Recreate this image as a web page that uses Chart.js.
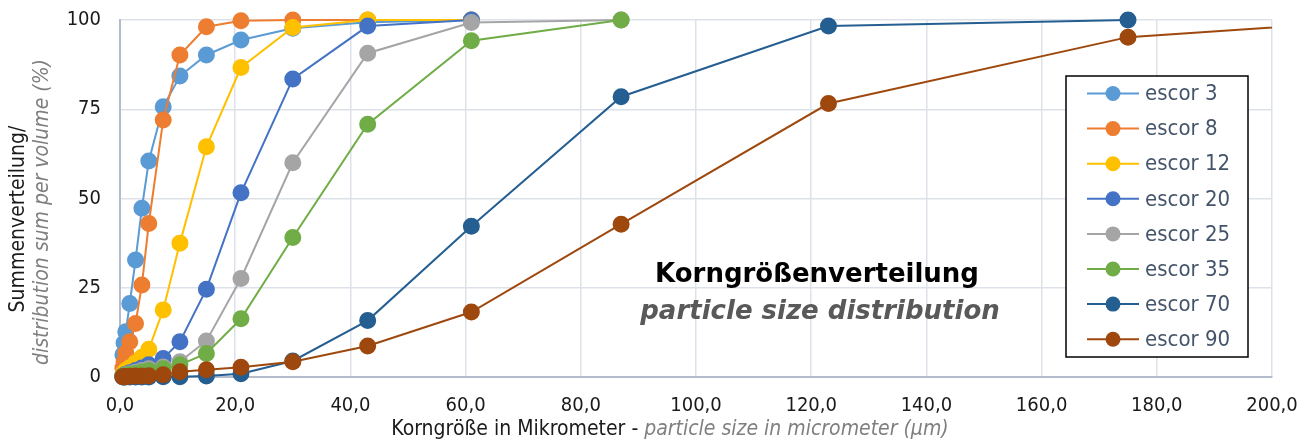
<!DOCTYPE html>
<html>
<head>
<meta charset="utf-8">
<script src="https://cdn.jsdelivr.net/npm/chart.js@4.4.1/dist/chart.umd.min.js"></script>
<style>
  html, body { margin: 0; padding: 0; background: #fff; }
  #wrap { width: 1308px; height: 441px; }
</style>
</head>
<body>
<div id="wrap"><canvas id="chart" width="1308" height="441"></canvas></div>
<script>
// particle sizes (µm), shared by all series
const sizes = [0.5, 0.7, 1.0, 1.7, 2.7, 3.8, 5.0, 7.5, 10.4, 15.0, 21.0, 30.0, 43.0, 61.0, 87.0, 123.0, 175.0, 220.0];

// cumulative % per series (stops where curve reaches 100)
const escor3  = [6.2, 9.5, 12.7, 20.6, 32.8, 47.3, 60.5, 75.7, 84.3, 90.2, 94.4, 97.7, 99.4, 100];
const escor8  = [2.5, 4.3, 6.7, 9.9, 15.0, 25.8, 43.0, 72.0, 90.2, 98.1, 99.8, 100, 100];
const escor12 = [0.8, 1.2, 1.8, 2.6, 4.0, 5.5, 7.8, 18.8, 37.5, 64.5, 86.7, 97.9, 100, 100];
const escor20 = [0.3, 0.5, 0.8, 1.2, 1.8, 2.5, 3.4, 5.2, 9.9, 24.6, 51.6, 83.5, 98.3, 100];
const escor25 = [0.2, 0.4, 0.6, 0.9, 1.3, 1.8, 2.3, 2.8, 4.3, 10.1, 27.6, 60.0, 90.7, 99.3, 100];
const escor35 = [0.2, 0.3, 0.5, 0.7, 1.0, 1.4, 1.8, 2.3, 3.4, 6.6, 16.3, 39.1, 70.8, 94.2, 100];
const escor70 = [0, 0, 0, 0, 0, 0, 0, 0.05, 0.1, 0.3, 0.9, 4.5, 15.8, 42.2, 78.5, 98.3, 100];
const escor90 = [0.1, 0.1, 0.15, 0.2, 0.25, 0.3, 0.35, 0.6, 1.5, 2.0, 2.7, 4.3, 8.7, 18.2, 42.8, 76.6, 95.2, 100];

const seriesNames = ['escor 3', 'escor 8', 'escor 12', 'escor 20', 'escor 25', 'escor 35', 'escor 70', 'escor 90'];
const seriesValues = [escor3, escor8, escor12, escor20, escor25, escor35, escor70, escor90];
const colors = ['#5B9BD5', '#ED7D31', '#FFC000', '#4472C4', '#A5A5A5', '#70AD47', '#255E91', '#9E480E'];

const yTicks = [0, 25, 50, 75, 100];

const FONT = '"DejaVu Sans Condensed", "Liberation Sans Narrow", "DejaVu Sans", sans-serif';
const BOLD = '"DejaVu Sans", Verdana, sans-serif';

const datasets = seriesValues.map((vals, i) => ({
  label: seriesNames[i],
  data: vals.map((v, j) => ({ x: sizes[j], y: v })),
  borderColor: colors[i],
  backgroundColor: colors[i],
  pointBackgroundColor: colors[i],
  pointBorderColor: colors[i],
  pointRadius: 7.5,
  pointHoverRadius: 7.5,
  borderWidth: 2,
  tension: 0,
  order: seriesNames.length - i,   // later series on top, like excel
  clip: { left: 12, top: 12, right: 0, bottom: 12 }
}));

// texts, axis titles and legend box drawn by hand
const decor = {
  id: 'decor',
  afterDraw(chart) {
    const c = chart.ctx;
    c.save();

    // centre title inside the plot
    c.textAlign = 'center';
    c.textBaseline = 'middle';
    c.fillStyle = '#000';
    c.font = 'bold 26px ' + BOLD;
    c.fillText('Korngrößenverteilung', 817, 275);
    c.fillStyle = '#595959';
    c.font = 'italic bold 26px ' + BOLD;
    c.fillText('particle size distribution', 820, 312);

    // x axis title (two styles)
    const p1 = 'Korngröße in Mikrometer - ';
    const p2 = 'particle size in micrometer (µm)';
    c.font = '21px ' + FONT;
    const w1 = c.measureText(p1).width;
    c.font = 'italic 21px ' + FONT;
    const w2 = c.measureText(p2).width;
    let sx = 670 - (w1 + w2) / 2;
    c.textAlign = 'left';
    c.font = '21px ' + FONT;
    c.fillStyle = '#1a1a1a';
    c.fillText(p1, sx, 430);
    c.font = 'italic 21px ' + FONT;
    c.fillStyle = '#7f7f7f';
    c.fillText(p2, sx + w1, 430);

    // y axis title, rotated
    c.save();
    c.translate(19, 219);
    c.rotate(-Math.PI / 2);
    c.textAlign = 'center';
    c.font = '21px ' + FONT;
    c.fillStyle = '#1a1a1a';
    c.fillText('Summenverteilung/', 0, 0);
    c.restore();
    c.save();
    c.translate(43, 212);
    c.rotate(-Math.PI / 2);
    c.textAlign = 'center';
    c.font = 'italic 21px ' + FONT;
    c.fillStyle = '#7f7f7f';
    c.fillText('distribution sum per volume (%)', 0, 0);
    c.restore();

    // legend
    const bx = 1066, by = 76, bw = 182, bh = 281;
    c.fillStyle = '#fff';
    c.fillRect(bx, by, bw, bh);
    c.strokeStyle = '#000';
    c.lineWidth = 1.5;
    c.strokeRect(bx, by, bw, bh);
    c.font = '22px ' + FONT;
    c.textAlign = 'left';
    seriesNames.forEach((name, i) => {
      const yy = 93.5 + i * 35.1;
      c.strokeStyle = colors[i];
      c.lineWidth = 2;
      c.beginPath();
      c.moveTo(1087, yy);
      c.lineTo(1139, yy);
      c.stroke();
      c.fillStyle = colors[i];
      c.beginPath();
      c.arc(1113, yy, 7.5, 0, Math.PI * 2);
      c.fill();
      c.fillStyle = '#44546A';
      c.fillText(name, 1145, yy + 1);
    });
    c.restore();
  }
};

// tick padding would otherwise be added to the plot margins
function noPad(scale) {
  scale.paddingTop = 0;
  scale.paddingBottom = 0;
  scale.paddingLeft = 0;
  scale.paddingRight = 0;
}

new Chart(document.getElementById('chart'), {
  type: 'line',
  data: { datasets: datasets },
  options: {
    responsive: false,
    animation: false,
    events: [],
    layout: { autoPadding: false, padding: { left: 0, right: 36, top: 20, bottom: 0 } },
    plugins: {
      legend: { display: false },
      tooltip: { enabled: false },
      title: { display: false }
    },
    scales: {
      x: {
        type: 'linear',
        min: 0,
        max: 200,
        afterFit(scale) { scale.height = 64; noPad(scale); },
        grid: { color: '#dde2ea', lineWidth: 1.5, drawTicks: false },
        border: { color: '#b4bccb', width: 2 },
        ticks: {
          stepSize: 20,
          padding: 17,
          color: '#1a1a1a',
          font: { family: FONT, size: 20 },
          callback: v => v.toFixed(1).replace('.', ',')
        }
      },
      y: {
        min: 0,
        max: 100,
        afterFit(scale) { scale.width = 120; noPad(scale); },
        afterBuildTicks(scale) { scale.ticks = yTicks.map(v => ({ value: v })); },
        grid: { color: '#dde2ea', lineWidth: 1.5, drawTicks: false },
        border: { color: '#b4bccb', width: 2 },
        ticks: {
          padding: 19,
          color: '#1a1a1a',
          font: { family: FONT, size: 20 }
        }
      }
    }
  },
  plugins: [decor]
});
</script>
</body>
</html>
